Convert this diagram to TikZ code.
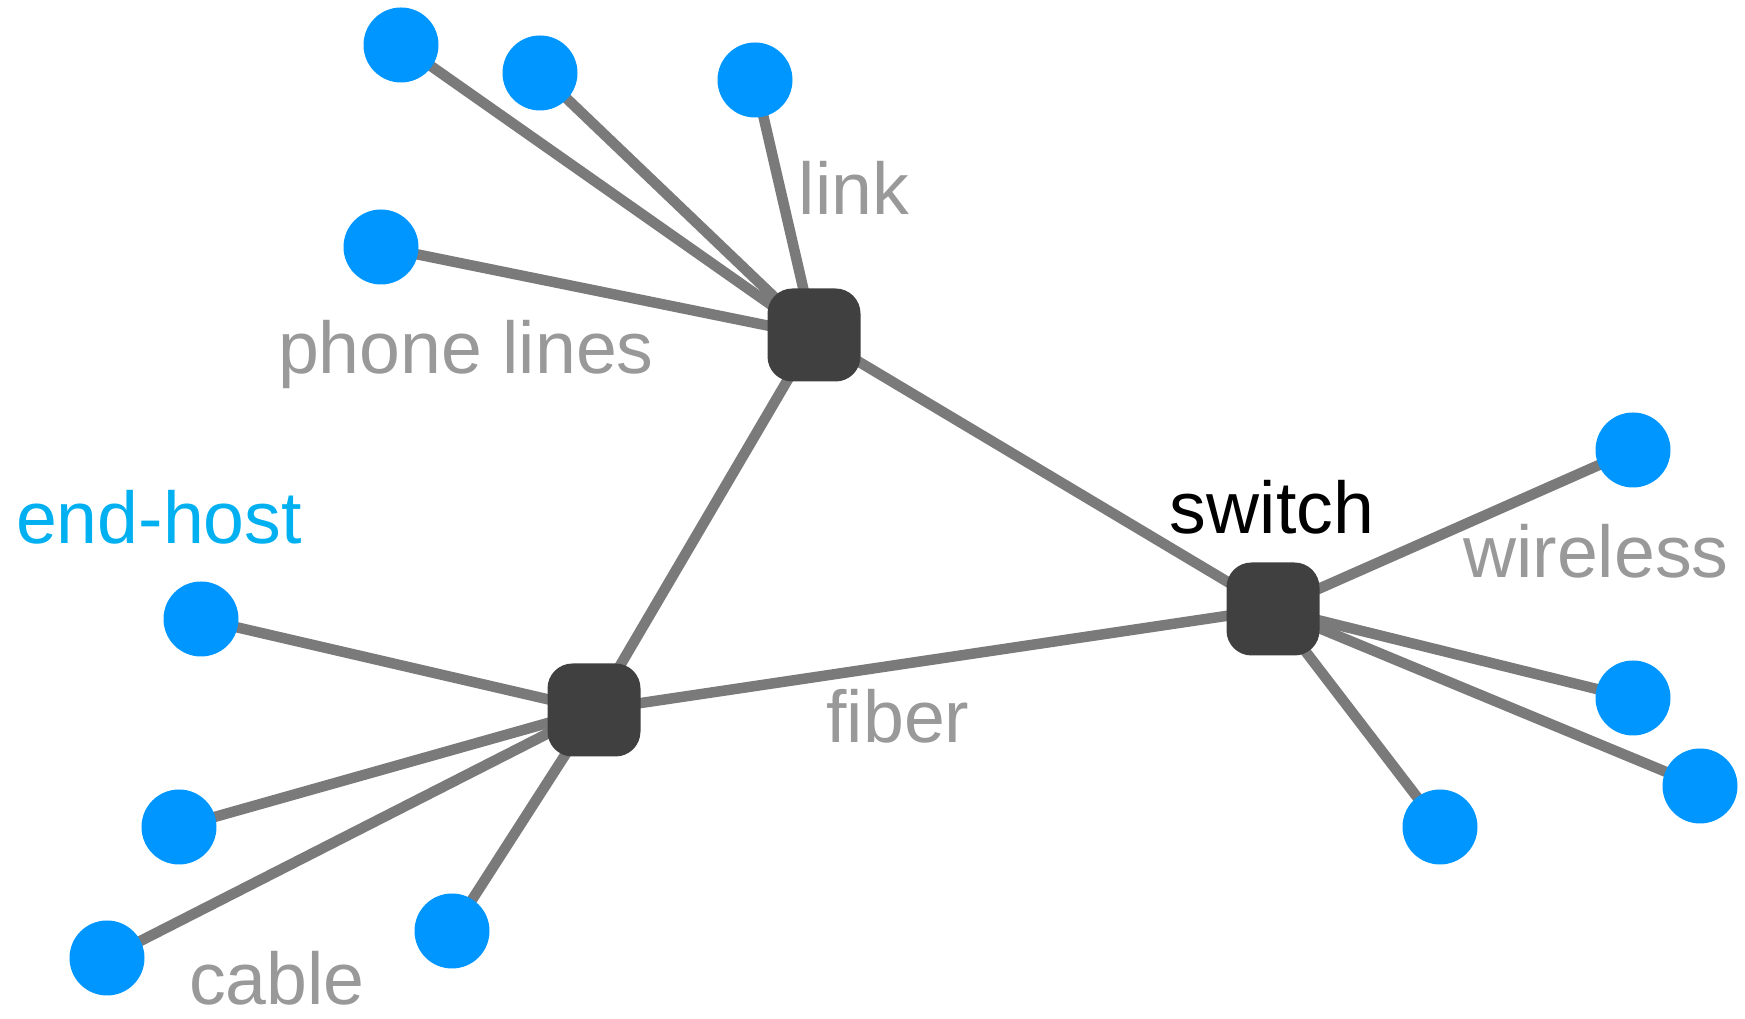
\documentclass[tikz,border=0pt]{standalone}
\usepackage{fontspec}
\setmainfont{Liberation Sans}
\usetikzlibrary{backgrounds}
\definecolor{hostblue}{RGB}{0,150,255}
\definecolor{hosttext}{RGB}{0,176,240}
\definecolor{wiregray}{RGB}{122,122,122}
\definecolor{textgray}{RGB}{153,153,153}
\definecolor{boxgray}{RGB}{64,64,64}
\begin{document}
\begin{tikzpicture}[
    host/.style={circle, fill=hostblue, minimum size=0.75cm, inner sep=0pt},
    switchbox/.style={rectangle, rounded corners=0.25cm, fill=boxgray, minimum size=0.93cm, inner sep=0pt},
    wire/.style={draw=wiregray, line width=0.105cm},
    lbl/.style={anchor=base, text=textgray, font=\fontsize{20.9}{25}\selectfont},
  ]
    \useasboundingbox (0,0) rectangle (17.45,10.19);
    % Switches
    \node[switchbox] (sw1) at (8.14, 6.84) {};
    \node[switchbox] (sw2) at (5.94, 3.09) {};
    \node[switchbox] (sw3) at (12.73, 4.10) {};
    % End hosts
    \node[host] (h1) at (4.01, 9.74) {};
    \node[host] (h2) at (5.40, 9.46) {};
    \node[host] (h3) at (7.55, 9.39) {};
    \node[host] (h4) at (3.81, 7.72) {};
    \node[host] (h5) at (2.01, 4.00) {};
    \node[host] (h6) at (1.79, 1.92) {};
    \node[host] (h7) at (1.07, 0.61) {};
    \node[host] (h8) at (4.52, 0.88) {};
    \node[host] (h9) at (16.33, 5.69) {};
    \node[host] (h10) at (16.33, 3.21) {};
    \node[host] (h11) at (17.00, 2.33) {};
    \node[host] (h12) at (14.40, 1.92) {};
    % Links, behind the nodes
    \begin{pgfonlayer}{background}
      \foreach \h in {h1,h2,h3,h4,sw2,sw3}
        \draw[wire] (sw1.center) -- (\h.center);
      \foreach \h in {h5,h6,h7,h8,sw3}
        \draw[wire] (sw2.center) -- (\h.center);
      \foreach \h in {h9,h10,h11,h12}
        \draw[wire] (sw3.center) -- (\h.center);
    \end{pgfonlayer}
    % Labels
    \node[lbl] (linktxt) at (8.54, 8.04) {link};
    \node[lbl] (phonetxt) at (4.66, 6.45) {phone lines};
    \node[lbl, text=hosttext] (hosttxt) at (1.59, 4.75) {end-host};
    \node[lbl, text=black] (switchtxt) at (12.72, 4.85) {switch};
    \node[lbl] (wirelesstxt) at (15.96, 4.41) {wireless};
    \node[lbl] (fibertxt) at (8.98, 2.76) {fiber};
    \node[lbl] (cabletxt) at (2.77, 0.14) {cable};
\end{tikzpicture}
\end{document}
